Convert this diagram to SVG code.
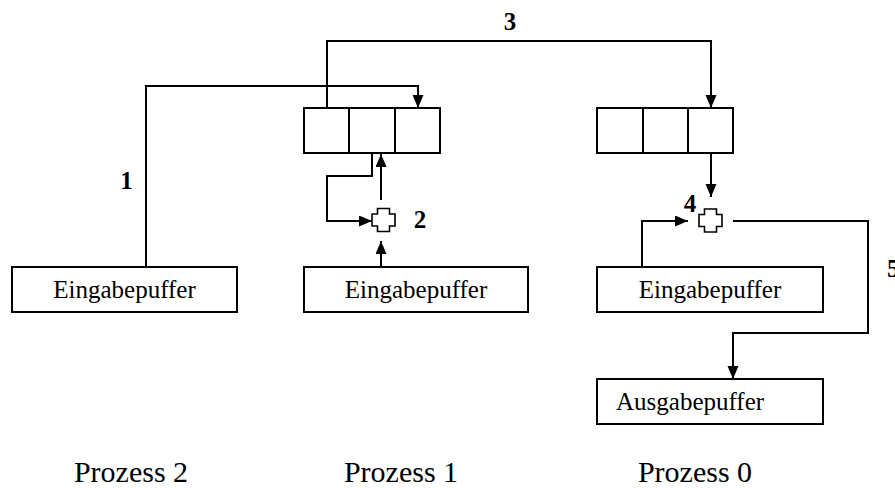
<svg xmlns="http://www.w3.org/2000/svg" width="895" height="488" viewBox="0 0 895 488">
<style>
.box{fill:#fff;stroke:#000;stroke-width:2}
.cell{fill:#fff;stroke:#000;stroke-width:2}
.plus{fill:#fff;stroke:#000;stroke-width:1.6}
.con{fill:none;stroke:#000;stroke-width:2}
text{fill:#000}
.t{font-size:25px}
.p{font-size:30px}
.n{font-size:25px;font-weight:bold}
</style>
<defs>
<marker id="ah" markerUnits="userSpaceOnUse" markerWidth="14" markerHeight="12" refX="13" refY="5.5" orient="auto">
<path d="M0,0 L13,5.5 L0,11 z" fill="#000"/>
</marker>
<path id="cross" d="M-6,-11.5 H6 V-6 H11.5 V6 H6 V11.5 H-6 V6 H-11.5 V-6 H-6 Z"/>
</defs>
<rect width="895" height="488" fill="#fff"/>
<g id="connectors">
<path class="con" d="M146,267 V86 H418 V108" marker-end="url(#ah)"/>
<path class="con" d="M327,108 V41 H711 V108" marker-end="url(#ah)"/>
<path class="con" d="M372,153 V176 H327 V221 H372" marker-end="url(#ah)"/>
<path class="con" d="M381,200 V154" marker-end="url(#ah)"/>
<path class="con" d="M381,267 V241" marker-end="url(#ah)"/>
<path class="con" d="M711,153 V197" marker-end="url(#ah)"/>
<path class="con" d="M642,267 V221 H688" marker-end="url(#ah)"/>
<path class="con" d="M733,221 H868 V333 H733 V379" marker-end="url(#ah)"/>
</g>
<g id="array1">
<rect class="cell" x="304" y="108" width="45" height="45"/>
<rect class="cell" x="349" y="108" width="46" height="45"/>
<rect class="cell" x="395" y="108" width="45" height="45"/>
</g>
<g id="array0">
<rect class="cell" x="597" y="108" width="46" height="45"/>
<rect class="cell" x="643" y="108" width="45" height="45"/>
<rect class="cell" x="688" y="108" width="45" height="45"/>
</g>
<g id="plus1"><use href="#cross" class="plus" x="383.5" y="220"/></g>
<g id="plus0"><use href="#cross" class="plus" x="710.5" y="220.5"/></g>
<g font-family="Liberation Serif, Times New Roman, serif">
<g id="eingabe2">
<rect class="box" x="12" y="267" width="225" height="45"/>
<text class="t" x="124.5" y="298" text-anchor="middle">Eingabepuffer</text>
</g>
<g id="eingabe1">
<rect class="box" x="304" y="267" width="224" height="45"/>
<text class="t" x="416" y="298" text-anchor="middle">Eingabepuffer</text>
</g>
<g id="eingabe0">
<rect class="box" x="597" y="267" width="226" height="45"/>
<text class="t" x="710" y="298" text-anchor="middle">Eingabepuffer</text>
</g>
<g id="ausgabe0">
<rect class="box" x="597" y="379" width="226" height="45"/>
<text class="t" x="616" y="410">Ausgabepuffer</text>
</g>
<g id="labels">
<text class="n" x="126.5" y="189" text-anchor="middle">1</text>
<text class="n" x="510" y="30" text-anchor="middle">3</text>
<text class="n" x="420" y="228" text-anchor="middle">2</text>
<text class="n" x="690" y="212" text-anchor="middle">4</text>
<text class="n" x="887" y="277">5</text>
<text class="p" x="131" y="482" text-anchor="middle">Prozess 2</text>
<text class="p" x="401" y="482" text-anchor="middle">Prozess 1</text>
<text class="p" x="695" y="482" text-anchor="middle">Prozess 0</text>
</g>
</g>
</svg>
